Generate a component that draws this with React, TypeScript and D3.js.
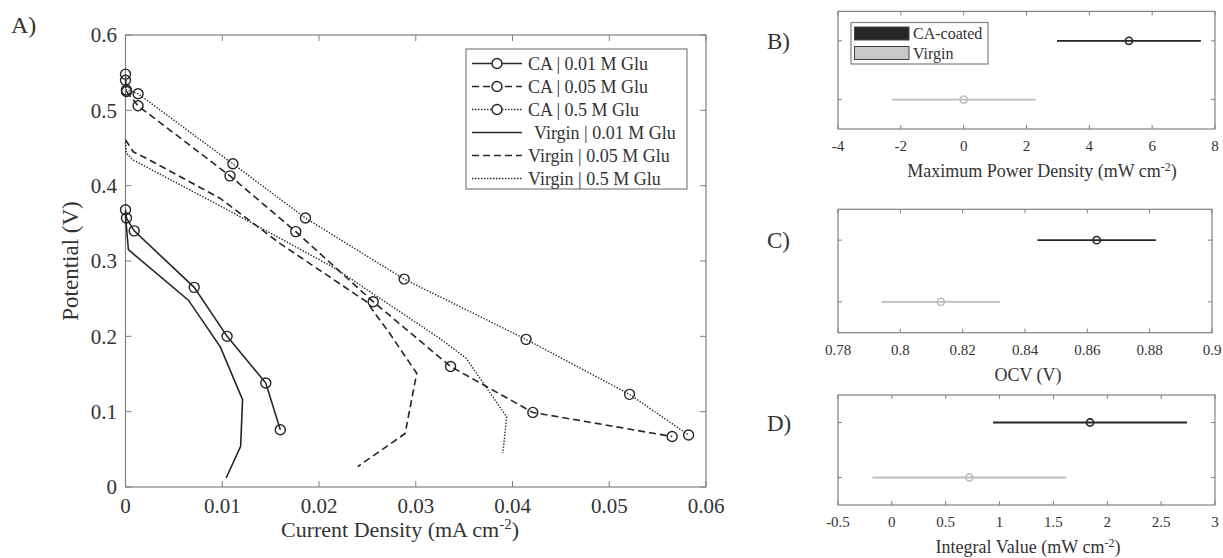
import React from 'react';
import * as d3 from 'd3';

// panel A: polarisation curves (current density in mA cm-2, potential in V)
const caGlu001X = [0, 0.0001, 0.0009, 0.0071, 0.0105, 0.0145, 0.016];
const caGlu001Y = [0.368, 0.357, 0.34, 0.265, 0.2, 0.138, 0.076];
const caGlu005X = [0, 0.0001, 0.0013, 0.0108, 0.0176, 0.0256, 0.0336, 0.0421, 0.0565];
const caGlu005Y = [0.54, 0.525, 0.506, 0.413, 0.339, 0.246, 0.16, 0.099, 0.067];
const caGlu05X = [0, 0.0001, 0.0013, 0.0111, 0.0186, 0.0288, 0.0414, 0.0521, 0.0582];
const caGlu05Y = [0.548, 0.527, 0.522, 0.429, 0.357, 0.276, 0.196, 0.123, 0.069];
const virginGlu001X = [0, 0.0003, 0.0065, 0.0098, 0.0121, 0.0119, 0.0104];
const virginGlu001Y = [0.36, 0.315, 0.248, 0.186, 0.116, 0.054, 0.012];
const virginGlu005X = [0, 0.0008, 0.0022, 0.0098, 0.016, 0.0249, 0.0273, 0.0301, 0.0289, 0.024];
const virginGlu005Y = [0.461, 0.445, 0.436, 0.383, 0.323, 0.246, 0.204, 0.151, 0.071, 0.027];
const virginGlu05X = [0, 0.0001, 0.0008, 0.0098, 0.016, 0.0217, 0.0325, 0.0352, 0.0394, 0.039];
const virginGlu05Y = [0.458, 0.443, 0.434, 0.373, 0.33, 0.29, 0.197, 0.171, 0.093, 0.045];

const seriesNames = [
  'CA | 0.01 M Glu', 'CA | 0.05 M Glu', 'CA | 0.5 M Glu',
  'Virgin | 0.01 M Glu', 'Virgin | 0.05 M Glu', 'Virgin | 0.5 M Glu',
];
const currentTicks = [0, 0.01, 0.02, 0.03, 0.04, 0.05, 0.06];
const potentialTicks = [0, 0.1, 0.2, 0.3, 0.4, 0.5, 0.6];

// panels B-D: mean +/- error for each membrane
const membranes = ['CA-coated', 'Virgin'];
const powerMean = [5.26, 0.0];
const powerErr = [2.29, 2.29];
const powerTicks = [-4, -2, 0, 2, 4, 6, 8];
const ocvMean = [0.863, 0.813];
const ocvErr = [0.019, 0.019];
const ocvTicks = [0.78, 0.8, 0.82, 0.84, 0.86, 0.88, 0.9];
const integralMean = [1.84, 0.72];
const integralErr = [0.9, 0.9];
const integralTicks = [-0.5, 0, 0.5, 1, 1.5, 2, 2.5, 3];

const FONT = "'Liberation Serif', 'Times New Roman', 'DejaVu Serif', serif";
const AXIS = '#808080';
const TEXT = '#333';
const DARK = '#262626';
const LIGHT = '#bdbdbd';

const styles = [
  { dash: null, marker: true },
  { dash: '7,4', marker: true },
  { dash: '1.4,1.6', marker: true },
  { dash: null, marker: false },
  { dash: '7,4', marker: false },
  { dash: '1.4,1.6', marker: false },
];

const T = (props: any) => <text fill={TEXT} style={{ fontFamily: FONT }} {...props} />;

function PanelA() {
  const x = d3.scaleLinear().domain([0, 0.06]).range([125.5, 706]);
  const y = d3.scaleLinear().domain([0, 0.6]).range([487, 35]);
  const line = d3.line<[number, number]>().x(d => x(d[0])).y(d => y(d[1]));

  const series = [
    d3.zip(caGlu001X, caGlu001Y),
    d3.zip(caGlu005X, caGlu005Y),
    d3.zip(caGlu05X, caGlu05Y),
    d3.zip(virginGlu001X, virginGlu001Y),
    d3.zip(virginGlu005X, virginGlu005Y),
    d3.zip(virginGlu05X, virginGlu05Y),
  ] as [number, number][][];

  const [x0, x1] = x.range();
  const [y0, y1] = y.range();

  return (
    <g>
      <T x={11} y={33} fontSize={24}>A)</T>
      <rect x={x0} y={y1} width={x1 - x0} height={y0 - y1} fill="none" stroke={AXIS} strokeWidth={1.2} />
      {currentTicks.map(t => (
        <g key={'xt' + t}>
          <line x1={x(t)} x2={x(t)} y1={y0} y2={y0 - 6} stroke={AXIS} />
          <line x1={x(t)} x2={x(t)} y1={y1} y2={y1 + 6} stroke={AXIS} />
          <T x={x(t)} y={513} fontSize={21} textAnchor="middle">{String(t)}</T>
        </g>
      ))}
      {potentialTicks.map(t => (
        <g key={'yt' + t}>
          <line x1={x0} x2={x0 + 6} y1={y(t)} y2={y(t)} stroke={AXIS} />
          <line x1={x1} x2={x1 - 6} y1={y(t)} y2={y(t)} stroke={AXIS} />
          <T x={117} y={y(t)} dy="0.35em" fontSize={21} textAnchor="end">{String(t)}</T>
        </g>
      ))}
      <T x={400} y={537} fontSize={22} textAnchor="middle">
        Current Density (mA cm<tspan dy={-8} fontSize={15}>-2</tspan><tspan dy={8}>)</tspan>
      </T>
      <T transform={`translate(78,261) rotate(-90)`} fontSize={23} textAnchor="middle">Potential (V)</T>

      {series.map((pts, i) => (
        <g key={'s' + i}>
          <path d={line(pts) || ''} fill="none" stroke={DARK}
            strokeWidth={styles[i].dash === '1.4,1.6' ? 1.4 : 1.6}
            strokeDasharray={styles[i].dash || undefined} />
          {styles[i].marker && pts.map((p, j) => (
            <circle key={j} cx={x(p[0])} cy={y(p[1])} r={5} fill="none" stroke={DARK} strokeWidth={1.4} />
          ))}
        </g>
      ))}

      <rect x={466} y={49} width={221} height={140} fill="#fff" stroke={AXIS} strokeWidth={1.2} />
      {seriesNames.map((name, i) => {
        const ly = 63.5 + i * 23;
        return (
          <g key={'lg' + i}>
            <line x1={472} x2={522} y1={ly} y2={ly} stroke={DARK}
              strokeWidth={styles[i].dash === '1.4,1.6' ? 1.4 : 1.6}
              strokeDasharray={styles[i].dash || undefined} />
            {styles[i].marker && <circle cx={497} cy={ly} r={5} fill="#fff" stroke={DARK} strokeWidth={1.4} />}
            <T x={i === 3 ? 534 : 528} y={ly} dy="0.35em" fontSize={18}>{name}</T>
          </g>
        );
      })}
    </g>
  );
}

type PanelProps = {
  label: string;
  top: number;
  bottom: number;
  right: number;
  domain: [number, number];
  ticks: number[];
  mean: number[];
  err: number[];
  xlabel: React.ReactNode;
  labelX: number;
  legend?: boolean;
};

function ErrorPanel({ label, top, bottom, right, domain, ticks, mean, err, xlabel, labelX, legend }: PanelProps) {
  const left = 838;
  const x = d3.scaleLinear().domain(domain).range([left, right]);
  const y = d3.scalePoint<string>().domain(membranes).range([top, bottom]).padding(0.5);
  const colors = [DARK, LIGHT];
  const labelY = top + (bottom - top) / 4 + 8;

  return (
    <g>
      <T x={767} y={labelY} fontSize={23}>{label}</T>
      <rect x={left} y={top} width={right - left} height={bottom - top} fill="none" stroke={AXIS} strokeWidth={1.2} />
      {ticks.map(t => (
        <g key={'t' + t}>
          <line x1={x(t)} x2={x(t)} y1={bottom} y2={bottom - 4} stroke={AXIS} />
          <line x1={x(t)} x2={x(t)} y1={top} y2={top + 4} stroke={AXIS} />
          <T x={x(t)} y={bottom + 22} fontSize={15} textAnchor="middle">{String(t)}</T>
        </g>
      ))}
      {membranes.map(m => (
        <g key={'yt' + m}>
          <line x1={left} x2={left + 4} y1={y(m)} y2={y(m)} stroke={AXIS} />
          <line x1={right} x2={right - 4} y1={y(m)} y2={y(m)} stroke={AXIS} />
        </g>
      ))}
      {membranes.map((m, i) => (
        <g key={m}>
          <line x1={x(mean[i] - err[i])} x2={x(mean[i] + err[i])} y1={y(m)} y2={y(m)} stroke={colors[i]} strokeWidth={1.8} />
          <circle cx={x(mean[i])} cy={y(m)} r={3.6} fill="none" stroke={colors[i]} strokeWidth={1.6} />
        </g>
      ))}
      <T x={labelX} y={bottom + 48} fontSize={18} textAnchor="middle">{xlabel}</T>
      {legend && (
        <g>
          <rect x={851} y={22.5} width={137} height={41.5} fill="#fff" stroke={AXIS} strokeWidth={1.2} />
          {membranes.map((m, i) => (
            <g key={'lg' + m}>
              <rect x={854.5} y={27 + i * 19.5} width={54.5} height={13} fill={i === 0 ? DARK : '#c8c8c8'} stroke="#444" strokeWidth={1} />
              <T x={913} y={33.5 + i * 19.5} dy="0.35em" fontSize={16}>{m}</T>
            </g>
          ))}
        </g>
      )}
    </g>
  );
}

export default function App() {
  return (
    <svg width={1223} height={558} style={{ position: 'absolute', left: 0, top: 0, background: '#fff' }}>
      <PanelA />
      <ErrorPanel label="B)" top={11.4} bottom={129} right={1215} domain={[-4, 8]} ticks={powerTicks}
        mean={powerMean} err={powerErr} legend labelX={1042}
        xlabel={<>Maximum Power Density (mW cm<tspan dy={-6} fontSize={12}>-2</tspan><tspan dy={6}>)</tspan></>} />
      <ErrorPanel label="C)" top={209.3} bottom={332.7} right={1212} domain={[0.78, 0.9]} ticks={ocvTicks}
        mean={ocvMean} err={ocvErr} xlabel="OCV (V)" labelX={1028} />
      <ErrorPanel label="D)" top={395} bottom={505} right={1215} domain={[-0.5, 3]} ticks={integralTicks}
        mean={integralMean} err={integralErr} labelX={1028}
        xlabel={<>Integral Value (mW cm<tspan dy={-6} fontSize={12}>-2</tspan><tspan dy={6}>)</tspan></>} />
    </svg>
  );
}
